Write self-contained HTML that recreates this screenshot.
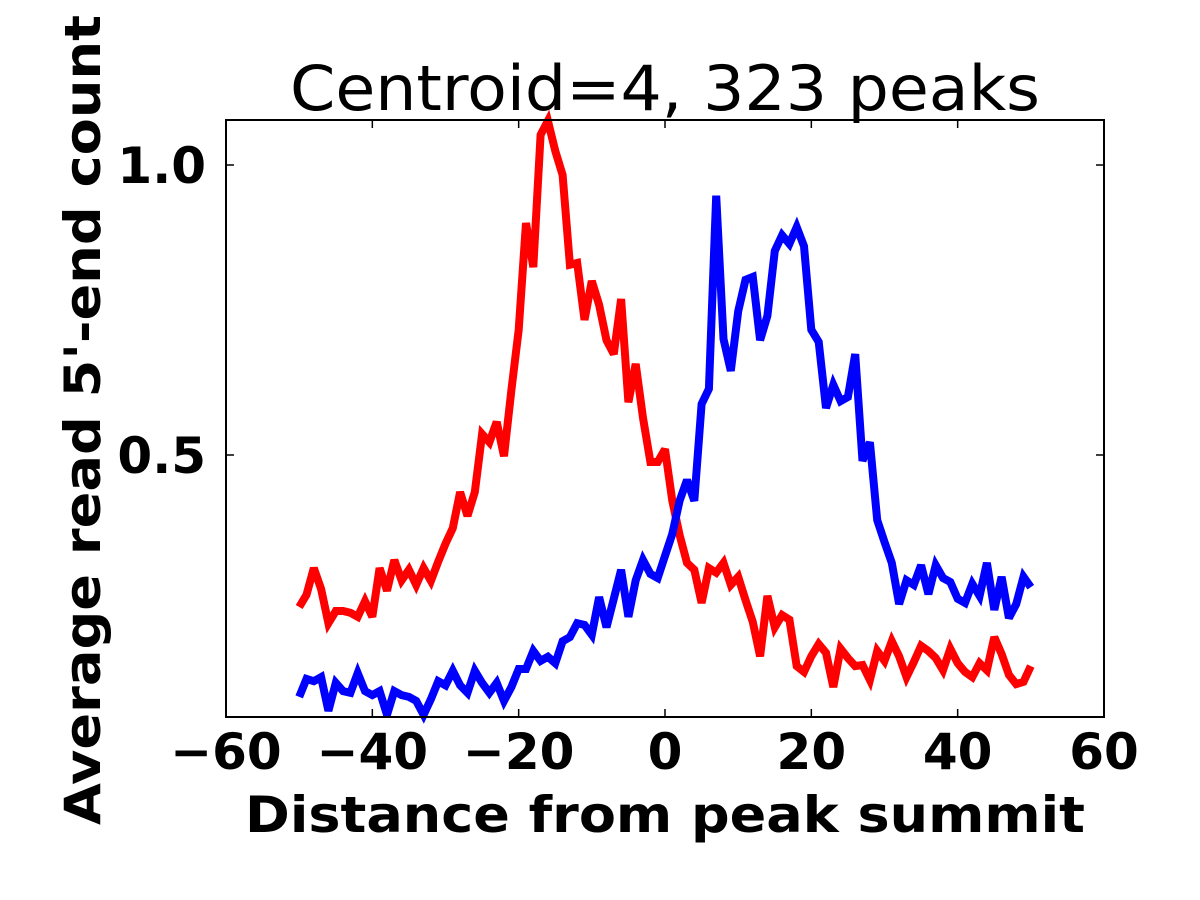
<!DOCTYPE html>
<html><head><meta charset="utf-8"><style>
html,body{margin:0;padding:0;background:#fff;}
svg{display:block;font-family:"DejaVu Sans","Liberation Sans",sans-serif;}
</style></head><body>
<svg id="chart" width="1200" height="900">
<rect width="1200" height="900" fill="#fff"/>
<text x="665" y="110" font-size="62" text-anchor="middle" textLength="750" lengthAdjust="spacingAndGlyphs">Centroid=4, 323 peaks</text>
<g id="plot"></g>
<text x="665" y="832" font-size="50" font-weight="bold" text-anchor="middle" textLength="840" lengthAdjust="spacingAndGlyphs">Distance from peak summit</text>
<text transform="translate(100,420) rotate(-90)" font-size="50" font-weight="bold" text-anchor="middle" textLength="810" lengthAdjust="spacingAndGlyphs">Average read 5'-end count</text>
</svg>
<script>
const positions = [];
for (let i = -50; i <= 50; i++) positions.push(i);
const redValues = [.238,.259,.305,.269,.210,.231,.231,.228,.221,.248,.221,.305,.266,.319,.284,.302,.276,.305,.283,.316,.347,.374,.436,.395,.436,.536,.522,.557,.498,.612,.716,.900,.824,1.052,1.076,1.024,.983,.828,.831,.733,.800,.759,.698,.674,.769,.591,.657,.564,.488,.488,.510,.421,.362,.314,.302,.245,.305,.297,.314,.276,.290,.250,.212,.153,.257,.203,.224,.216,.136,.126,.153,.174,.159,.100,.166,.150,.136,.138,.112,.162,.145,.179,.153,.117,.143,.171,.162,.150,.129,.166,.141,.126,.117,.141,.129,.186,.157,.121,.105,.109,.136];
const blueValues = [.083,.114,.110,.117,.059,.107,.093,.090,.124,.093,.086,.093,.052,.093,.086,.083,.076,.052,.079,.110,.103,.128,.103,.090,.128,.107,.090,.107,.076,.100,.131,.131,.162,.145,.152,.141,.179,.186,.210,.207,.190,.255,.203,.252,.302,.221,.284,.319,.295,.288,.326,.364,.421,.457,.421,.588,.614,.947,.700,.645,.748,.802,.807,.698,.740,.852,.879,.864,.893,.860,.716,.695,.581,.621,.593,.600,.674,.490,.522,.388,.350,.314,.243,.284,.276,.310,.260,.310,.288,.281,.252,.245,.278,.257,.314,.233,.290,.219,.243,.290,.272];
const xTicks = [-60,-40,-20,0,20,40,60];
const xTickLabels = ["\u221260","\u221240","\u221220","0","20","40","60"];
const yTicks = [0.5,1.0];
const yTickLabels = ["0.5","1.0"];

const L=226,R=1104,T=120,B=717;
const xMin=-60,xMax=60;
const yMin=(745-717)/580, yMax=(745-120)/580;
const sx=v=>L+(v-xMin)/(xMax-xMin)*(R-L);
const sy=v=>B-(v-yMin)/(yMax-yMin)*(B-T);
const NS="http://www.w3.org/2000/svg";
const g=document.getElementById('plot');
function mk(tag,attrs){const e=document.createElementNS(NS,tag);for(const k in attrs)e.setAttribute(k,attrs[k]);g.appendChild(e);return e;}

function series(vals,color,name){
  const d=vals.map((v,i)=>(i?'L':'M')+sx(positions[i]).toFixed(1)+','+sy(v).toFixed(1)).join(' ');
  const p=mk('path',{d:d,fill:'none',stroke:color,'stroke-width':8,'stroke-linejoin':'miter','stroke-miterlimit':3});
  
  
}
series(redValues,'#ff0000','red-series-line');
series(blueValues,'#0000ff','blue-series-line');

const frame=mk('rect',{x:L,y:T,width:R-L,height:B-T,fill:'none',stroke:'#000','stroke-width':2});



xTicks.forEach((t,i)=>{
  const x=sx(t);
  mk('line',{x1:x,x2:x,y1:B,y2:B-8,stroke:'#000','stroke-width':1.5});
  mk('line',{x1:x,x2:x,y1:T,y2:T+8,stroke:'#000','stroke-width':1.5});
  const tx=mk('text',{x:x,y:B+52,'font-size':50,'font-weight':'bold','text-anchor':'middle'});
  tx.textContent=xTickLabels[i];
  
  
});
yTicks.forEach((t,i)=>{
  const y=sy(t);
  mk('line',{x1:L,x2:L+8,y1:y,y2:y,stroke:'#000','stroke-width':1.5});
  mk('line',{x1:R,x2:R-8,y1:y,y2:y,stroke:'#000','stroke-width':1.5});
  const tx=mk('text',{x:206,y:y+18,'font-size':50,'font-weight':'bold','text-anchor':'end'});
  tx.textContent=yTickLabels[i];
  
  
});
</script>
</body></html>
